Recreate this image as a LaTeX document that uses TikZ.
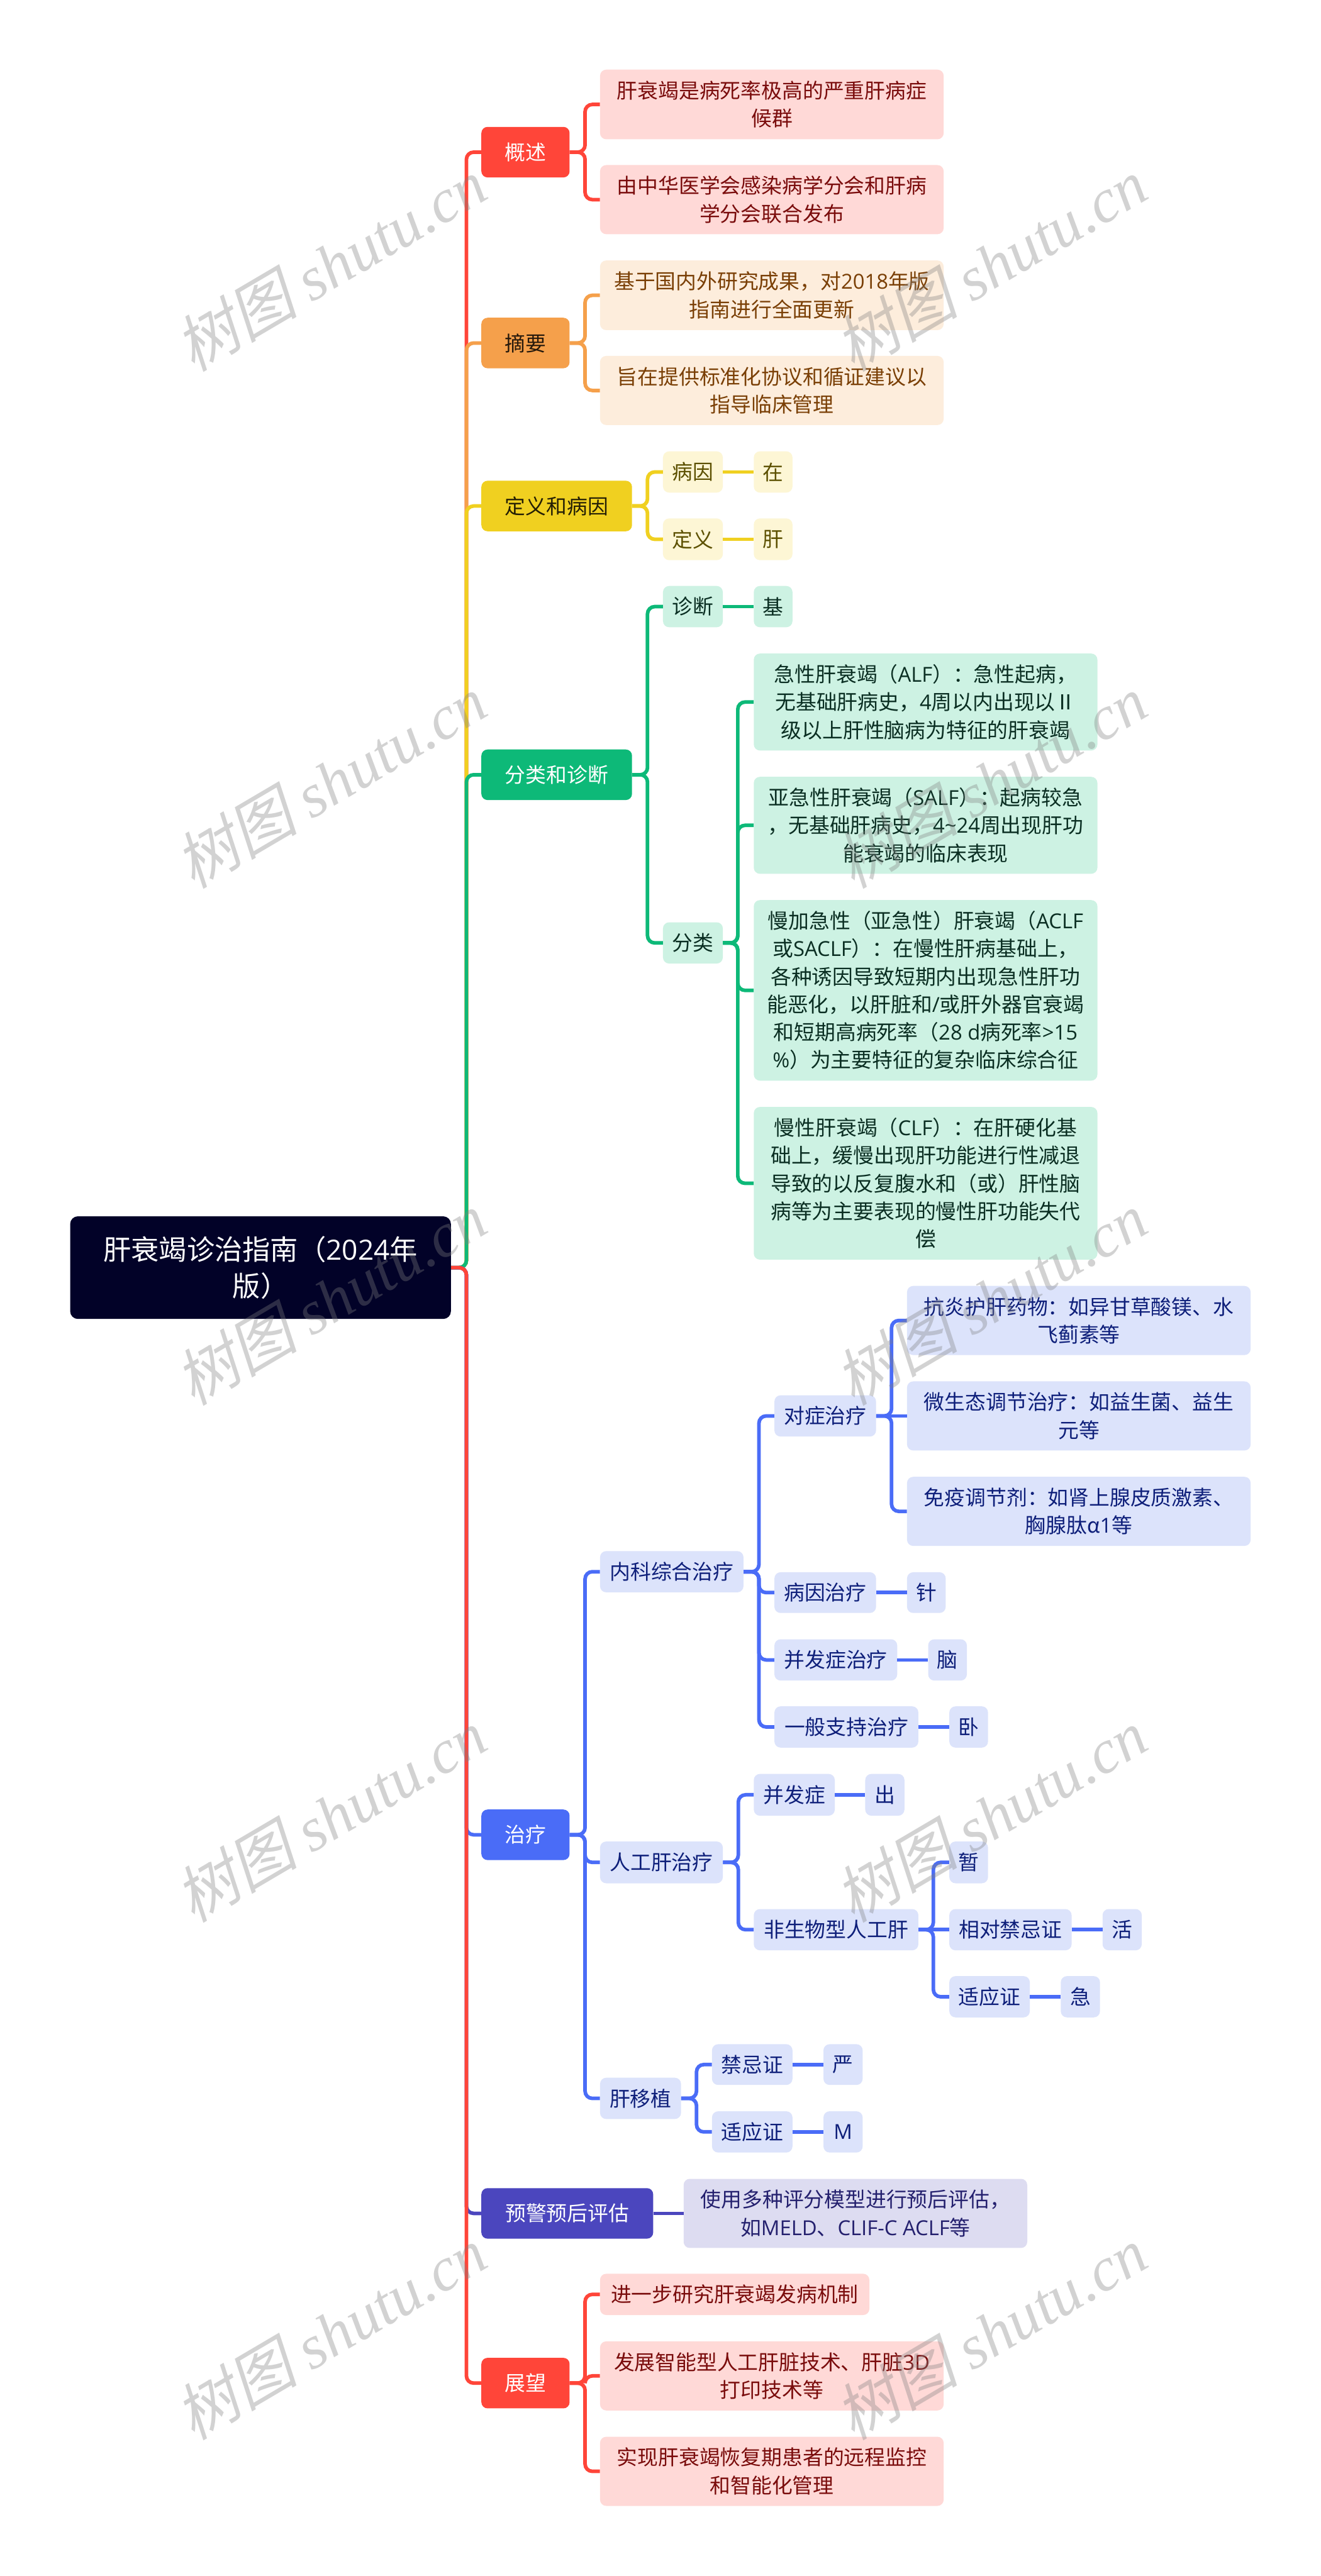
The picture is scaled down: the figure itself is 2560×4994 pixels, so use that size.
\documentclass[tikz,border=0pt]{standalone}
\usepackage{fontspec}
\setmainfont{Noto Sans CJK SC}
\newfontfamily\wmcjk[FakeSlant=0.22]{Noto Sans CJK SC}
\newfontfamily\wmlat{Liberation Serif}
\newfontfamily\latf{Open Sans}
\newcommand\la[1]{{\latf #1}}
\definecolor{cR}{HTML}{FF4539}\definecolor{cRl}{HTML}{FFD9D7}\definecolor{tR}{HTML}{7A0C0C}
\definecolor{cO}{HTML}{F5A04B}\definecolor{cOl}{HTML}{FDEDDC}\definecolor{tO}{HTML}{7A3F05}
\definecolor{cY}{HTML}{F0D020}\definecolor{cYl}{HTML}{FDF6D5}\definecolor{tY}{HTML}{5C5000}
\definecolor{cG}{HTML}{0DB978}\definecolor{cGl}{HTML}{CDF2E3}\definecolor{tG}{HTML}{0A2E22}
\definecolor{cB}{HTML}{4A6CF7}\definecolor{cBl}{HTML}{DCE3FB}\definecolor{tB}{HTML}{0E1F7A}
\definecolor{cP}{HTML}{4B46BE}\definecolor{cPl}{HTML}{DDDCF1}\definecolor{tP}{HTML}{24206E}
\definecolor{cRoot}{HTML}{020228}
\tikzset{
 box/.style={rectangle,rounded corners=12pt,inner sep=0pt,align=center,font=\fontsize{40}{54}\selectfont},
 rootbox/.style={box,rounded corners=15pt,fill=cRoot,text=white,font=\fontsize{54}{70}\selectfont},
 bR/.style={box,fill=cR,text=white}, lR/.style={box,fill=cRl,text=tR},
 bO/.style={box,fill=cO,text=black!85!cO}, lO/.style={box,fill=cOl,text=tO},
 bY/.style={box,fill=cY,text=black!85!cY}, lY/.style={box,fill=cYl,text=tY},
 bG/.style={box,fill=cG,text=white}, lG/.style={box,fill=cGl,text=tG},
 bB/.style={box,fill=cB,text=white}, lB/.style={box,fill=cBl,text=tB},
 bP/.style={box,fill=cP,text=white}, lP/.style={box,fill=cPl,text=tP},
 conn/.style={line width=7pt,rounded corners=14pt},
 wm/.style={rotate=30.5,text=gray,opacity=0.35,inner sep=0pt}
}
\newcommand\nd[7]{%
 \pgfmathsetmacro\cxx{(#3+#5)/2}\pgfmathsetmacro\cyy{(#4+#6)/2}%
 \pgfmathsetmacro\wwd{#5-#3}\pgfmathsetmacro\hgt{#6-#4}%
 \node[#1,minimum width=\wwd pt,minimum height=\hgt pt] (#2) at (\cxx,\cyy) {#7};}
\newcommand\lnk[4]{\draw[conn,#1] (#2.east) -- (#3,0 |- #2.east) |- (#4.west);}
\newcommand\strt[3]{\draw[conn,#1] (#2.east) -- (#3.west);}
\newcommand\wmark[3]{\node[wm] (#1) at (#2,#3) {\fontsize{120}{125}\selectfont\wmcjk 树图\ \wmlat\itshape shutu.cn};}
\begin{document}
\begin{tikzpicture}[x=1pt,y=-1pt]
\useasboundingbox (0,0) rectangle (2560,4994);
\fill[white] (0,0) rectangle (2560,4994);
% root
\nd{rootbox}{root}{136}{2358}{874}{2557}{肝衰竭诊治指南（\la{2024}年\\版）}
% 概述
\nd{bR}{gs}{933}{246}{1104}{344}{概述}
\nd{lR}{gs1}{1163}{135}{1829}{270}{肝衰竭是病死率极高的严重肝病症\\候群}
\nd{lR}{gs2}{1163}{320}{1829}{454}{由中华医学会感染病学分会和肝病\\学分会联合发布}
% 摘要
\nd{bO}{zy}{933}{616}{1104}{714}{摘要}
\nd{lO}{zy1}{1163}{505}{1829}{640}{基于国内外研究成果，对\la{2018}年版\\指南进行全面更新}
\nd{lO}{zy2}{1163}{690}{1829}{824}{旨在提供标准化协议和循证建议以\\指导临床管理}
% 定义和病因
\nd{bY}{dy}{933}{932}{1225}{1030}{定义和病因}
\nd{lY}{dy1}{1285}{875}{1401}{955}{病因}
\nd{lY}{dy1a}{1461}{875}{1536}{955}{在}
\nd{lY}{dy2}{1285}{1005}{1401}{1086}{定义}
\nd{lY}{dy2a}{1461}{1005}{1536}{1086}{肝}
% 分类和诊断
\nd{bG}{fl}{933}{1453}{1225}{1551}{分类和诊断}
\nd{lG}{zd}{1285}{1136}{1401}{1216}{诊断}
\nd{lG}{zda}{1461}{1136}{1536}{1216}{基}
\nd{lG}{fl0}{1285}{1788}{1401}{1868}{分类}
\nd{lG}{fl1}{1461}{1267}{2127}{1455}{急性肝衰竭（\la{ALF}）：急性起病，\\无基础肝病史，\la{4}周以内出现以Ⅱ\\级以上肝性脑病为特征的肝衰竭}
\nd{lG}{fl2}{1461}{1506}{2127}{1694}{亚急性肝衰竭（\la{SALF}）：起病较急\\，无基础肝病史，\la{4\textasciitilde 24}周出现肝功\\能衰竭的临床表现}
\nd{lG}{fl3}{1461}{1745}{2127}{2095}{慢加急性（亚急性）肝衰竭（\la{ACLF}\\或\la{SACLF}）：在慢性肝病基础上，\\各种诱因导致短期内出现急性肝功\\能恶化，以肝脏和\la{/}或肝外器官衰竭\\和短期高病死率（\la{28 d}病死率\la{>15}\\\la{\%}）为主要特征的复杂临床综合征}
\nd{lG}{fl4}{1461}{2146}{2127}{2442}{慢性肝衰竭（\la{CLF}）：在肝硬化基\\础上，缓慢出现肝功能进行性减退\\导致的以反复腹水和（或）肝性脑\\病等为主要表现的慢性肝功能失代\\偿}
% 治疗
\nd{bB}{zl}{933}{3508}{1104}{3606}{治疗}
\nd{lB}{nk}{1163}{3007}{1441}{3087}{内科综合治疗}
\nd{lB}{dz}{1501}{2705}{1698}{2785}{对症治疗}
\nd{lB}{dz1}{1758}{2493}{2424}{2627}{抗炎护肝药物：如异甘草酸镁、水\\飞蓟素等}
\nd{lB}{dz2}{1758}{2678}{2424}{2812}{微生态调节治疗：如益生菌、益生\\元等}
\nd{lB}{dz3}{1758}{2863}{2424}{2997}{免疫调节剂：如肾上腺皮质激素、\\胸腺肽α\la{1}等}
\nd{lB}{by}{1501}{3048}{1698}{3127}{病因治疗}
\nd{lB}{bya}{1758}{3048}{1833}{3127}{针}
\nd{lB}{bf}{1501}{3178}{1739}{3258}{并发症治疗}
\nd{lB}{bfa}{1799}{3178}{1874}{3258}{脑}
\nd{lB}{yb}{1501}{3308}{1780}{3388}{一般支持治疗}
\nd{lB}{yba}{1840}{3308}{1915}{3388}{卧}
\nd{lB}{rg}{1163}{3570}{1401}{3651}{人工肝治疗}
\nd{lB}{rg1}{1461}{3439}{1618}{3520}{并发症}
\nd{lB}{rg1a}{1677}{3439}{1753}{3520}{出}
\nd{lB}{fs}{1461}{3701}{1780}{3781}{非生物型人工肝}
\nd{lB}{fs1}{1840}{3570}{1915}{3651}{暂}
\nd{lB}{fs2}{1840}{3701}{2077}{3781}{相对禁忌证}
\nd{lB}{fs2a}{2137}{3701}{2213}{3781}{活}
\nd{lB}{fs3}{1840}{3831}{1996}{3911}{适应证}
\nd{lB}{fs3a}{2056}{3831}{2132}{3911}{急}
\nd{lB}{yz}{1163}{4028}{1320}{4108}{肝移植}
\nd{lB}{yz1}{1380}{3963}{1536}{4042}{禁忌证}
\nd{lB}{yz1a}{1596}{3963}{1672}{4042}{严}
\nd{lB}{yz2}{1380}{4093}{1536}{4173}{适应证}
\nd{lB}{yz2a}{1596}{4093}{1672}{4173}{\la{M}}
% 预警
\nd{bP}{yj}{933}{4242}{1266}{4340}{预警预后评估}
\nd{lP}{yj1}{1325}{4224}{1991}{4358}{使用多种评分模型进行预后评估，\\如\la{MELD}、\la{CLIF-C ACLF}等}
% 展望
\nd{bR}{zw}{933}{4571}{1104}{4669}{展望}
\nd{lR}{zw1}{1163}{4408}{1685}{4488}{进一步研究肝衰竭发病机制}
\nd{lR}{zw2}{1163}{4539}{1829}{4673}{发展智能型人工肝脏技术、肝脏\la{3D}\\打印技术等}
\nd{lR}{zw3}{1163}{4724}{1829}{4858}{实现肝衰竭恢复期患者的远程监控\\和智能化管理}
% connectors: trunk
\lnk{cR}{root}{904}{gs}
\lnk{cO}{root}{904}{zy}
\lnk{cY}{root}{904}{dy}
\lnk{cG}{root}{904}{fl}
\lnk{cB}{root}{904}{zl}
\lnk{cP}{root}{904}{yj}
\lnk{cR}{root}{904}{zw}
% red
\lnk{cR}{gs}{1134}{gs1}
\lnk{cR}{gs}{1134}{gs2}
% orange
\lnk{cO}{zy}{1134}{zy1}
\lnk{cO}{zy}{1134}{zy2}
% yellow
\lnk{cY}{dy}{1255}{dy1}
\lnk{cY}{dy}{1255}{dy2}
\strt{cY}{dy1}{dy1a}
\strt{cY}{dy2}{dy2a}
% green
\lnk{cG}{fl}{1255}{zd}
\lnk{cG}{fl}{1255}{fl0}
\strt{cG}{zd}{zda}
\lnk{cG}{fl0}{1430}{fl1}
\lnk{cG}{fl0}{1430}{fl2}
\lnk{cG}{fl0}{1430}{fl3}
\lnk{cG}{fl0}{1430}{fl4}
% blue
\lnk{cB}{zl}{1134}{nk}
\lnk{cB}{zl}{1134}{rg}
\lnk{cB}{zl}{1134}{yz}
\lnk{cB}{nk}{1471}{dz}
\lnk{cB}{nk}{1471}{by}
\lnk{cB}{nk}{1471}{bf}
\lnk{cB}{nk}{1471}{yb}
\lnk{cB}{dz}{1728}{dz1}
\strt{cB}{dz}{dz2}
\lnk{cB}{dz}{1728}{dz3}
\strt{cB}{by}{bya}
\strt{cB}{bf}{bfa}
\strt{cB}{yb}{yba}
\lnk{cB}{rg}{1431}{rg1}
\lnk{cB}{rg}{1431}{fs}
\strt{cB}{rg1}{rg1a}
\lnk{cB}{fs}{1809}{fs1}
\strt{cB}{fs}{fs2}
\lnk{cB}{fs}{1809}{fs3}
\strt{cB}{fs2}{fs2a}
\strt{cB}{fs3}{fs3a}
\lnk{cB}{yz}{1350}{yz1}
\lnk{cB}{yz}{1350}{yz2}
\strt{cB}{yz1}{yz1a}
\strt{cB}{yz2}{yz2a}
% purple
\strt{cP}{yj}{yj1}
% red bottom
\lnk{cR}{zw}{1134}{zw1}
\lnk{cR}{zw}{1134}{zw2}
\lnk{cR}{zw}{1134}{zw3}
% watermarks
\wmark{wa}{640}{513}\wmark{wb}{1920}{513}
\wmark{wc}{640}{1515}\wmark{wd}{1920}{1515}
\wmark{we}{640}{2518}\wmark{wf}{1920}{2518}
\wmark{wg}{640}{3520}\wmark{wh}{1920}{3520}
\wmark{wi}{640}{4523}\wmark{wj}{1920}{4523}
\end{tikzpicture}
\end{document}
